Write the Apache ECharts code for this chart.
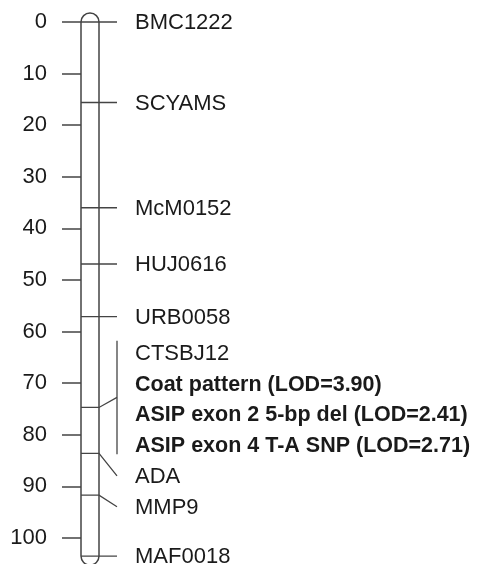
<!DOCTYPE html>
<html>
<head>
<meta charset="utf-8">
<script src="https://cdn.jsdelivr.net/npm/echarts@6/dist/echarts.min.js"></script>
<style>
html,body{margin:0;padding:0;background:#fff;}
#chart{width:481px;height:564px;}
</style>
</head>
<body>
<div id="chart"></div>
<script>
// Marker positions (cM) along the linkage group
const markerPositions = [0, 15.6, 36.0, 46.9, 57.1, 74.7, 83.6, 91.7, 103.5];
// Labels attached to each marker position (several names share one position)
const markerLabels = [
  ['BMC1222'],
  ['SCYAMS'],
  ['McM0152'],
  ['HUJ0616'],
  ['URB0058'],
  ['CTSBJ12', 'Coat pattern (LOD=3.90)', 'ASIP exon 2 5-bp del (LOD=2.41)', 'ASIP exon 4 T-A SNP (LOD=2.71)'],
  ['ADA'],
  ['MMP9'],
  ['MAF0018']
];
const axisMin = 0;
const axisMax = 100;
const axisInterval = 10;

const FONT = 'Liberation Sans';
const FONT_SIZE = 22;
const BOLD_SIZE = 21.5;
const LINE_COLOR = '#444';
const TEXT_COLOR = '#1a1a1a';
const LABEL_GAP = 30.8; // px between stacked labels
const CHR_W = 18;       // chromosome width px
const LINE_END = 36;    // marker line end from chromosome left
const LABEL_X = 54;     // label start from chromosome left
const TEXT_DY = 1.2;

function layoutLabels(desired) {
  // cluster-based overlap removal, clusters centered on mean of desired positions
  let clusters = desired.map(d => ({ items: [d], top: d }));
  let changed = true;
  while (changed) {
    changed = false;
    for (let i = 1; i < clusters.length; i++) {
      const a = clusters[i - 1], b = clusters[i];
      if (a.top + a.items.length * LABEL_GAP > b.top + 0.001) {
        const items = a.items.concat(b.items);
        let s = 0;
        items.forEach((d, k) => { s += d - k * LABEL_GAP; });
        clusters.splice(i - 1, 2, { items, top: s / items.length });
        changed = true;
        break;
      }
    }
  }
  const out = [];
  clusters.forEach(c => c.items.forEach((d, k) => out.push(c.top + k * LABEL_GAP)));
  return out;
}

function renderItem(params, api) {
  const x0 = api.coord([0, 0])[0];
  const yOf = v => api.coord([0, v])[1];
  const children = [];
  const yTop = yOf(markerPositions[0]);
  const yBot = yOf(markerPositions[markerPositions.length - 1]);
  const r = CHR_W / 2;
  children.push({
    type: 'rect',
    shape: { x: x0, y: yTop - r, width: CHR_W, height: yBot - yTop + 2 * r, r: r },
    style: { fill: '#fff', stroke: LINE_COLOR, lineWidth: 1.5 }
  });
  const desired = [];
  markerPositions.forEach((p, i) => {
    const my = yOf(p);
    const n = markerLabels[i].length;
    markerLabels[i].forEach((t, k) => {
      desired.push(my + (k - (n - 1) / 2) * LABEL_GAP);
    });
  });
  const placed = layoutLabels(desired);
  let idx = 0;
  markerPositions.forEach((p, i) => {
    const my = yOf(p);
    const labs = markerLabels[i];
    const ys = [];
    labs.forEach((t) => {
      const ly = placed[idx++];
      ys.push(ly);
      const bold = t.indexOf('(LOD=') >= 0;
      children.push({
        type: 'text',
        x: x0 + LABEL_X, y: ly + TEXT_DY,
        style: {
          text: t, fill: TEXT_COLOR,
          font: (bold ? 'bold ' + BOLD_SIZE : FONT_SIZE) + 'px "' + FONT + '"',
          textAlign: 'left', textVerticalAlign: 'middle'
        }
      });
    });
    let targetY;
    if (labs.length > 1) {
      const bTop = ys[0] - 12, bBot = ys[ys.length - 1] + 9;
      children.push({
        type: 'line',
        shape: { x1: x0 + LINE_END, y1: bTop, x2: x0 + LINE_END, y2: bBot },
        style: { stroke: LINE_COLOR, lineWidth: 1.3 }
      });
      targetY = (bTop + bBot) / 2;
    } else {
      targetY = ys[0];
    }
    children.push({
      type: 'polyline',
      shape: { points: [[x0, my], [x0 + CHR_W, my], [x0 + LINE_END, targetY]] },
      style: { stroke: LINE_COLOR, lineWidth: 1.3, fill: null }
    });
  });
  return { type: 'group', children };
}

const chart = echarts.init(document.getElementById('chart'));
chart.setOption({
  animation: false,
  grid: { left: 81, right: 100, top: 22, height: 516 },
  xAxis: { type: 'value', min: 0, max: 1, show: false },
  yAxis: {
    type: 'value', inverse: true, min: axisMin, max: axisMax, interval: axisInterval,
    axisLine: { show: false },
    axisTick: { show: true, length: 19, lineStyle: { color: LINE_COLOR, width: 1.5 } },
    axisLabel: { margin: 34, color: TEXT_COLOR, fontFamily: FONT, fontSize: FONT_SIZE, padding: [3, 0, 0, 0] },
    splitLine: { show: false }
  },
  series: [{
    type: 'custom',
    clip: false,
    silent: true,
    data: [[0, 0]],
    renderItem: renderItem
  }]
});
</script>
</body>
</html>
